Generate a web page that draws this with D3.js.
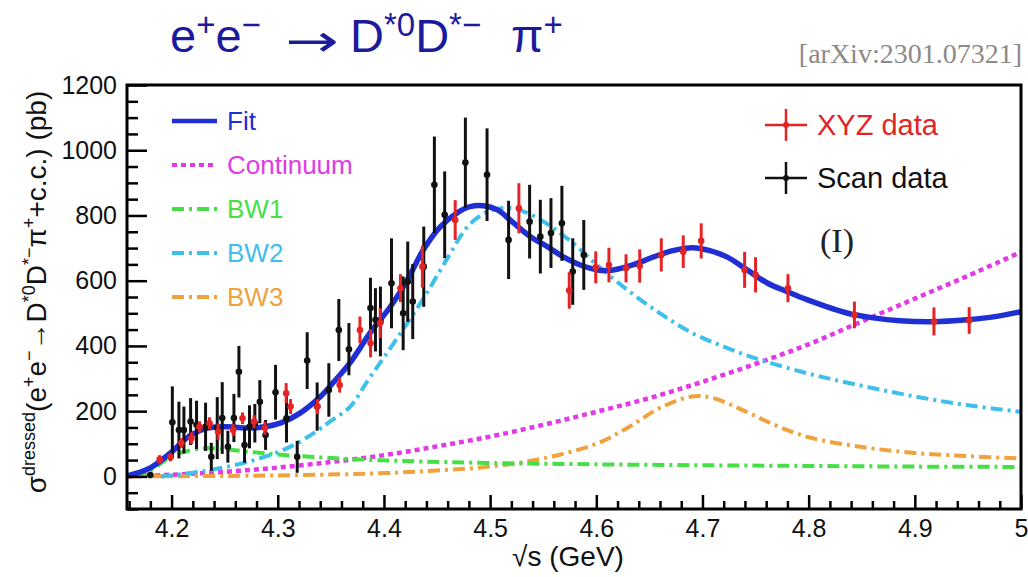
<!DOCTYPE html>
<html>
<head>
<meta charset="utf-8">
<script src="https://cdn.jsdelivr.net/npm/d3@7"></script>
<style>
  body { margin: 0; background: #fff; }
  text { font-family: "Liberation Sans", Arial, Helvetica, sans-serif; }
</style>
</head>
<body>
<svg id="chart" width="1028" height="577"></svg>
<script>
// ---- measured cross sections (sqrt(s) in GeV, sigma in pb) ----
const xyzE = [4.1888, 4.1989, 4.2092, 4.2187, 4.2263, 4.2357, 4.2438, 4.2580, 4.2668, 4.2777,
              4.2879, 4.3079, 4.3121, 4.3374, 4.3583, 4.3774, 4.3874, 4.3965, 4.4156, 4.4362,
              4.4671, 4.5271, 4.5745, 4.5995, 4.6119, 4.6280, 4.6409, 4.6612, 4.6819, 4.6988,
              4.7397, 4.7500, 4.7805, 4.8431, 4.9180, 4.9512];
const xyzSigma = [52, 59, 102, 117, 152, 163, 137, 142, 178, 168,
                  148, 255, 214, 214, 280, 449, 408, 470, 577, 643,
                  786, 822, 570, 641, 648, 638, 645, 679, 689, 722,
                  633, 618, 577, 495, 475, 478];
const xyzErr = [13, 13, 15, 18, 17, 18, 25, 18, 18, 20,
                20, 31, 23, 23, 23, 41, 43, 46, 43, 64,
                61, 77, 56, 49, 53, 43, 51, 51, 50, 54,
                55, 54, 43, 41, 43, 41];

const scanE = [4.1800, 4.2007, 4.2069, 4.2116, 4.2179, 4.2235, 4.2320, 4.2374, 4.2430, 4.2477,
               4.2530, 4.2587, 4.2634, 4.2687, 4.2734, 4.2784, 4.2831, 4.2885, 4.2979, 4.3082,
               4.3183, 4.3277, 4.3371, 4.3481, 4.3575, 4.3670, 4.3873, 4.3920, 4.3967, 4.4071,
               4.4181, 4.4224, 4.4271, 4.4375, 4.4475, 4.4572, 4.4767, 4.4971, 4.5174, 4.5372,
               4.5473, 4.5573, 4.5676, 4.5778, 4.5882];
const scanSigma = [4, 166, 142, 142, 168, 158, 152, 60, 148, 179,
                   91, 179, 321, 96, 152, 163, 229, 127, 258, 178,
                   60, 355, 214, 265, 449, 390, 516, 480, 475, 592,
                   500, 597, 536, 643, 894, 802, 962, 925, 725, 781,
                   735, 746, 776, 628, 679];
const scanErr = [5, 110, 87, 72, 72, 74, 74, 43, 95, 110,
                 49, 74, 79, 54, 66, 59, 66, 46, 84, 74,
                 49, 87, 74, 82, 95, 80, 93, 97, 107, 138,
                 113, 123, 115, 123, 148, 133, 138, 142, 120, 113,
                 113, 107, 115, 102, 107];

// ---- fit result and its components ----
const fitE = [4.159, 4.180, 4.199, 4.218, 4.234, 4.253, 4.272, 4.287, 4.303, 4.321,
              4.340, 4.352, 4.368, 4.387, 4.406, 4.422, 4.437, 4.453, 4.469, 4.481,
              4.494, 4.507, 4.522, 4.538, 4.554, 4.569, 4.585, 4.601, 4.616, 4.635,
              4.654, 4.672, 4.691, 4.707, 4.723, 4.742, 4.761, 4.780, 4.799, 4.836,
              4.861, 4.886, 4.917, 4.949, 4.974, 5.000];
const fitSigma = [2, 26, 72, 127, 148, 152, 148, 152, 164, 194,
                  244, 287, 348, 440, 520, 602, 694, 765, 808, 827,
                  830, 817, 777, 735, 704, 673, 648, 633, 633, 649,
                  673, 692, 701, 692, 673, 633, 593, 566, 541, 501,
                  486, 477, 474, 480, 489, 505];

const contE = [4.159, 4.20, 4.25, 4.30, 4.35, 4.40, 4.45, 4.50, 4.55, 4.60,
               4.65, 4.70, 4.75, 4.80, 4.85, 4.90, 4.95, 5.00];
const contSigma = [0, 5, 14, 27, 44, 65, 92, 122, 158, 198,
                   240, 290, 345, 405, 475, 545, 615, 688];

const bw1E = [4.165, 4.175, 4.19, 4.20, 4.215, 4.23, 4.245, 4.26, 4.28, 4.30,
              4.33, 4.37, 4.42, 4.50, 4.60, 4.70, 4.80, 4.90, 5.00];
const bw1Sigma = [0, 10, 40, 62, 78, 86, 85, 80, 73, 67,
                  60, 53, 47, 41, 37, 34, 32, 30, 29];

const bw2E = [4.19, 4.20, 4.225, 4.25, 4.28, 4.31, 4.335, 4.35, 4.368, 4.385,
              4.40, 4.42, 4.44, 4.46, 4.48, 4.50, 4.52, 4.54, 4.56, 4.58,
              4.60, 4.63, 4.66, 4.69, 4.72, 4.75, 4.80, 4.85, 4.90, 4.95, 5.00];
const bw2Sigma = [0, 3, 14, 28, 52, 88, 135, 170, 213, 295,
                  365, 460, 560, 670, 770, 815, 822, 800, 760, 710,
                  650, 570, 500, 440, 398, 362, 315, 278, 245, 218, 198];

const bw3E = [4.159, 4.30, 4.40, 4.45, 4.50, 4.55, 4.60, 4.63, 4.66, 4.69,
              4.71, 4.74, 4.77, 4.80, 4.85, 4.90, 4.95, 5.00];
const bw3Sigma = [0, 3, 10, 18, 30, 55, 100, 150, 210, 245,
                  240, 200, 155, 120, 90, 72, 62, 55];

// ---- axes ----
const xDomain = [4.158, 5.0];
const yDomain = [-100, 1200];
const xMajor = [4.2, 4.3, 4.4, 4.5, 4.6, 4.7, 4.8, 4.9, 5.0];
const xMajorLabels = ["4.2", "4.3", "4.4", "4.5", "4.6", "4.7", "4.8", "4.9", "5"];
const yMajor = [0, 200, 400, 600, 800, 1000, 1200];
const yMajorLabels = ["0", "200", "400", "600", "800", "1000", "1200"];

const legendLabels = ["Fit", "Continuum", "BW1", "BW2", "BW3"];
const dataLegendLabels = ["XYZ data", "Scan data"];

// ---- drawing ----
const svg = d3.select("#chart");
svg.append("rect").attr("width", 1028).attr("height", 577).attr("fill", "#fff");

const frame = { left: 127, right: 1021, top: 85, bottom: 509 };
const x = d3.scaleLinear().domain(xDomain).range([frame.left, frame.right]);
const y = d3.scaleLinear().domain(yDomain).range([frame.bottom, frame.top]);

const colors = {
  fit: "#1f2fd3",
  cont: "#e23ae6",
  bw1: "#46e046",
  bw2: "#3fbfeb",
  bw3: "#f0a23e",
  xyz: "#e42424",
  scan: "#111111",
  title: "#1b1b9c"
};

// process title: e+e- -> D*0 D*- pi+
const title = svg.append("text")
  .attr("y", 52)
  .attr("fill", colors.title)
  .style("font-size", "47px");
const sup = (t) => title.append("tspan").text(t).style("font-size", "33px").attr("dy", -16);
const base = (t, xPos) => {
  const sp = title.append("tspan").text(t).attr("dy", 16);
  if (xPos !== undefined) sp.attr("x", xPos);
  return sp;
};
title.append("tspan").attr("x", 170).text("e");
sup("+");
base("e");
sup("\u2212");
base("D", 350);
sup("*0");
base("D");
sup("*\u2212");
base("\u03c0", 511);
sup("+");

// reaction arrow, stretched horizontally
svg.append("text")
  .attr("transform", "translate(285,56) scale(1.45,1)")
  .attr("fill", colors.title)
  .style("font-family", "'DejaVu Sans', sans-serif")
  .style("font-size", "44px")
  .text("\u2192");

svg.append("text")
  .attr("x", 1022).attr("y", 63)
  .attr("text-anchor", "end")
  .attr("fill", "#8a8a8a")
  .style("font-family", "'Liberation Serif', 'Times New Roman', serif")
  .style("font-size", "28px")
  .text("[arXiv:2301.07321]");

const clipId = "plot-clip";
svg.append("clipPath").attr("id", clipId)
  .append("rect")
  .attr("x", frame.left).attr("y", frame.top)
  .attr("width", frame.right - frame.left).attr("height", frame.bottom - frame.top);

const plot = svg.append("g").attr("clip-path", `url(#${clipId})`);

const lineGen = d3.line()
  .x(d => x(d[0])).y(d => y(d[1]))
  .curve(d3.curveCatmullRom.alpha(0.5));

const components = [
  { key: "cont", E: contE, S: contSigma, dash: "5,4", width: 4.5 },
  { key: "bw3", E: bw3E, S: bw3Sigma, dash: "12,5,3,5", width: 4 },
  { key: "bw1", E: bw1E, S: bw1Sigma, dash: "12,5,3,5", width: 4 },
  { key: "bw2", E: bw2E, S: bw2Sigma, dash: "12,5,3,5", width: 4 },
  { key: "fit", E: fitE, S: fitSigma, dash: null, width: 5.5 }
];

components.forEach(c => {
  plot.append("path")
    .datum(d3.zip(c.E, c.S))
    .attr("d", lineGen)
    .attr("fill", "none")
    .attr("stroke", colors[c.key])
    .attr("stroke-width", c.width)
    .attr("stroke-dasharray", c.dash)
    .attr("stroke-linejoin", "round");
});

function drawPoints(E, S, Err, color) {
  const g = plot.append("g");
  const pts = d3.zip(E, S, Err);
  g.selectAll("line").data(pts).join("line")
    .attr("x1", d => x(d[0])).attr("x2", d => x(d[0]))
    .attr("y1", d => y(d[1] - d[2])).attr("y2", d => y(d[1] + d[2]))
    .attr("stroke", color).attr("stroke-width", 3);
  g.selectAll("circle").data(pts).join("circle")
    .attr("cx", d => x(d[0])).attr("cy", d => y(d[1]))
    .attr("r", 3.3).attr("fill", color);
}
drawPoints(scanE, scanSigma, scanErr, colors.scan);
drawPoints(xyzE, xyzSigma, xyzErr, colors.xyz);

// axes with inward ticks
const axisStyle = g => {
  g.select(".domain").remove();
  g.selectAll(".tick line").attr("stroke", "#000").attr("stroke-width", 2.5);
  g.selectAll(".tick text").attr("fill", "#111")
    .style("font-family", "'Liberation Sans', Arial, sans-serif");
};

const yMinor = d3.range(-100, 1201, 50).filter(v => v % 200 !== 0);
svg.append("g").attr("transform", `translate(${frame.left},0)`)
  .call(d3.axisLeft(y).tickValues(yMinor).tickSize(-11).tickFormat(""))
  .call(axisStyle);
svg.append("g").attr("transform", `translate(${frame.left},0)`)
  .call(d3.axisLeft(y).tickValues(yMajor).tickSize(-20).tickPadding(10)
    .tickFormat((d, i) => yMajorLabels[i]))
  .call(axisStyle)
  .call(g => g.selectAll(".tick text").style("font-size", "25px"));

const xMinor = d3.range(0, 43).map(i => +(4.16 + i * 0.02).toFixed(2))
  .filter(v => v <= 5.0 && Math.abs(v * 10 - Math.round(v * 10)) > 1e-6);
svg.append("g").attr("transform", `translate(0,${frame.bottom})`)
  .call(d3.axisBottom(x).tickValues(xMinor).tickSize(-8).tickFormat(""))
  .call(axisStyle);
svg.append("g").attr("transform", `translate(0,${frame.bottom})`)
  .call(d3.axisBottom(x).tickValues(xMajor).tickSize(-14).tickPadding(10)
    .tickFormat((d, i) => xMajorLabels[i]))
  .call(axisStyle)
  .call(g => g.selectAll(".tick text").style("font-size", "25px"));

// frame
svg.append("rect")
  .attr("x", frame.left).attr("y", frame.top)
  .attr("width", frame.right - frame.left).attr("height", frame.bottom - frame.top)
  .attr("fill", "none").attr("stroke", "#000").attr("stroke-width", 3);

// axis titles
svg.append("text")
  .attr("x", 568).attr("y", 566)
  .attr("text-anchor", "middle")
  .attr("fill", "#111")
  .style("font-size", "28px")
  .text("\u221as (GeV)");

const yTitle = svg.append("text")
  .attr("transform", "translate(46,292) rotate(-90)")
  .attr("text-anchor", "middle")
  .attr("fill", "#111")
  .style("font-size", "28px");
const yTitleParts = [
  ["\u03c3", 0], ["dressed", 1], ["(e", 0], ["+", 1], ["e", 0], ["\u2212", 1],
  ["\u2192D", 0], ["*0", 1], ["D", 0], ["*\u2212", 1], ["\u03c0", 0], ["+", 1],
  ["+c.c.) (pb)", 0]
];
yTitleParts.forEach(([t, isSup], i) => {
  const prevSup = i > 0 ? yTitleParts[i - 1][1] : 0;
  const sp = yTitle.append("tspan").text(t);
  if (isSup) { sp.style("font-size", "18px").attr("dy", prevSup ? 0 : -11); }
  else if (prevSup) { sp.attr("dy", 11); }
});

// component legend
const legY0 = 121, legDy = 44;
const legendOrder = ["fit", "cont", "bw1", "bw2", "bw3"];
legendOrder.forEach((key, i) => {
  const c = components.find(d => d.key === key);
  const yy = legY0 + i * legDy;
  svg.append("line")
    .attr("x1", 172).attr("x2", 217).attr("y1", yy).attr("y2", yy)
    .attr("stroke", colors[key]).attr("stroke-width", key === "fit" ? 4.5 : 4)
    .attr("stroke-dasharray", c.dash);
  svg.append("text")
    .attr("x", 227).attr("y", yy).attr("dy", "0.36em")
    .attr("fill", colors[key])
    .style("font-size", "26px")
    .text(legendLabels[i]);
});

// data legend
[[colors.xyz, 125], [colors.scan, 178]].forEach(([col, yy], i) => {
  svg.append("line").attr("x1", 765).attr("x2", 807).attr("y1", yy).attr("y2", yy)
    .attr("stroke", col).attr("stroke-width", 2.5);
  svg.append("line").attr("x1", 786).attr("x2", 786).attr("y1", yy - 16).attr("y2", yy + 16)
    .attr("stroke", col).attr("stroke-width", 2.5);
  svg.append("circle").attr("cx", 786).attr("cy", yy).attr("r", 3).attr("fill", col);
  svg.append("text")
    .attr("x", 817).attr("y", yy).attr("dy", "0.36em")
    .attr("fill", col)
    .style("font-size", "29px")
    .text(dataLegendLabels[i]);
});

svg.append("text")
  .attr("x", 820).attr("y", 252)
  .attr("fill", "#222")
  .style("font-family", "'Liberation Serif', 'Times New Roman', serif")
  .style("font-size", "34px")
  .text("(I)");
</script>
</body>
</html>
